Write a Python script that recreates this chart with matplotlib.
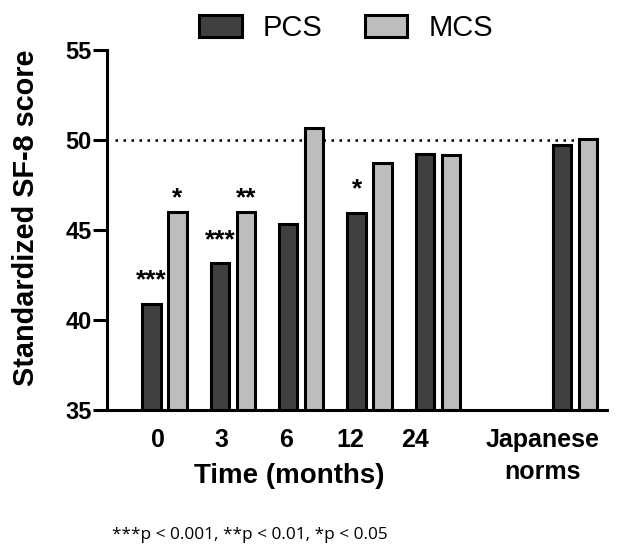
import matplotlib
matplotlib.use("Agg")
import matplotlib.pyplot as plt
import numpy as np

categories = ["0", "3", "6", "12", "24", "Japanese\nnorms"]
positions = [0, 1, 2, 3, 4, 6]
pcs = [40.9, 43.15, 45.35, 45.95, 49.25, 49.75]
mcs = [46.0, 46.0, 50.65, 48.7, 49.15, 50.05]
pcs_sig = ["***", "***", "", "*", "", ""]
mcs_sig = ["*", "**", "", "", "", ""]
norm_line = 50

plt.rcParams['font.family'] = ['Liberation Sans', 'DejaVu Sans']

fig = plt.figure(figsize=(6.4, 5.44), dpi=100)
L, R, B, T = 107 / 640, 607 / 640, 1 - 410 / 544, 1 - 50 / 544
ax = fig.add_axes([L, B, R - L, T - B])

x = np.array(positions, dtype=float)
w = 0.27
off = 0.19
ax.bar(x - off, [v - 35 for v in pcs], bottom=35, width=w, color="#404040",
       edgecolor="black", linewidth=2.2, label="PCS", zorder=3)
ax.bar(x + off, [v - 35 for v in mcs], bottom=35, width=w, color="#bdbdbd",
       edgecolor="black", linewidth=2.2, label="MCS", zorder=3)

ax.plot([-0.73, 6.4], [norm_line, norm_line], linestyle=(0, (1, 2.2)),
        color="black", linewidth=1.8, zorder=2)

for xi, v, s in zip(x, pcs, pcs_sig):
    if s:
        ax.annotate(s, (xi - off, v), xytext=(0, 8), textcoords="offset points",
                    ha="center", va="bottom", fontsize=19, fontweight="bold")
for xi, v, s in zip(x, mcs, mcs_sig):
    if s:
        ax.annotate(s, (xi + off, v), xytext=(0, 1.5), textcoords="offset points",
                    ha="center", va="bottom", fontsize=19, fontweight="bold")

ax.set_xlim(-0.84, 6.47)
ax.set_ylim(35, 55)
ax.set_yticks([35, 40, 45, 50, 55])
# tick labels in the original sit on a slightly compressed grid
ax.set_xticks(-0.10 + 0.939 * x)
ax.set_xticklabels(categories, fontsize=18, fontweight="bold", linespacing=1.4)
for lab in ax.get_yticklabels():
    lab.set_fontsize(17)
    lab.set_fontweight("bold")
ax.tick_params(axis="x", length=0, pad=13)
ax.tick_params(axis="y", length=10, width=2.2, pad=1)
for sp in ["top", "right"]:
    ax.spines[sp].set_visible(False)
ax.spines["left"].set_linewidth(2.2)
ax.spines["bottom"].set_linewidth(2.2)

ax.set_ylabel("Standardized SF-8 score", fontsize=20.8, fontweight="bold")
ax.yaxis.set_label_coords(-0.134, 0.533)
ax.set_xlabel("Time (months)", fontsize=20, fontweight="bold")
ax.xaxis.set_label_coords(0.364, -0.147)

leg = fig.legend(loc="center", bbox_to_anchor=(0.541, 0.948), ncol=2, frameon=False,
                 fontsize=21, handlelength=1.45, handleheight=0.8, columnspacing=1.46,
                 handletextpad=0.72)

fig.text(0.175, 0.01, "***p < 0.001, **p < 0.01, *p < 0.05", fontsize=12.4,
         family=["Open Sans", "DejaVu Sans"])

fig.savefig("out.png", dpi=100)
